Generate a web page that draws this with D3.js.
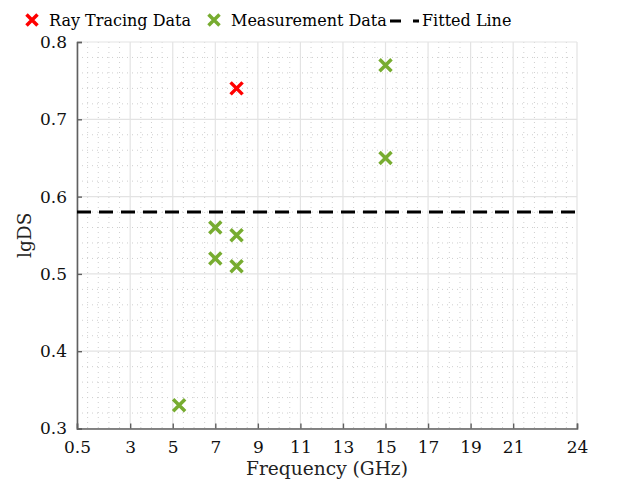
<!DOCTYPE html>
<html><head><meta charset="utf-8">
<script src="https://cdn.jsdelivr.net/npm/d3@7"></script>
<style>body{margin:0;background:#fff}</style>
</head><body><svg id="c" width="630" height="489"></svg>
<script>
const rayX = [8];
const rayY = [0.74];
const measX = [15, 15, 7, 8, 7, 8, 5.3];
const measY = [0.77, 0.65, 0.56, 0.55, 0.52, 0.51, 0.33];
const fittedValue = 0.58;
const xTicks = [0.5, 3, 5, 7, 9, 11, 13, 15, 17, 19, 21, 24];
const yTicks = [0.3, 0.4, 0.5, 0.6, 0.7, 0.8];
const legendLabels = ["Ray Tracing Data", "Measurement Data", "Fitted Line"];

const FONT = '"DejaVu Serif", serif';
const svg = d3.select("#c").attr("font-family", FONT);
const L = 77, R = 577, T = 42, B = 428.5;
const x = d3.scaleLinear().domain([0.5, 24]).range([L, R]);
const y = d3.scaleLinear().domain([0.3, 0.8]).range([B, T]);
const fs = 17, fsLeg = 16, fsLab = 18.6;

// minor grid
const xMinor = d3.range(1, 24, 0.5).filter(v => !xTicks.includes(v));
const yMinor = d3.range(0.32, 0.8, 0.02).map(v => +v.toFixed(2)).filter(v => !yTicks.some(t => Math.abs(t - v) < 1e-6));
const g = svg.append("g");
g.selectAll(".mx").data(xMinor).join("line")
  .attr("x1", d => x(d)).attr("x2", d => x(d)).attr("y1", T).attr("y2", B)
  .attr("stroke", "#cfcfcf").attr("stroke-width", 1).attr("stroke-dasharray", "1,4");
g.selectAll(".my").data(yMinor).join("line")
  .attr("y1", d => y(d)).attr("y2", d => y(d)).attr("x1", L).attr("x2", R)
  .attr("stroke", "#cfcfcf").attr("stroke-width", 1).attr("stroke-dasharray", "1,4");
// major grid
g.selectAll(".gx").data(xTicks).join("line")
  .attr("x1", d => x(d)).attr("x2", d => x(d)).attr("y1", T).attr("y2", B)
  .attr("stroke", "#e3e3e3").attr("stroke-width", 1.2);
g.selectAll(".gy").data(yTicks).join("line")
  .attr("y1", d => y(d)).attr("y2", d => y(d)).attr("x1", L).attr("x2", R)
  .attr("stroke", "#e3e3e3").attr("stroke-width", 1.2);

// axes
const xAxis = d3.axisBottom(x).tickValues(xTicks).tickSize(-5).tickPadding(12).tickFormat(d => d);
const yAxis = d3.axisLeft(y).tickValues(yTicks).tickSize(-5).tickPadding(10).tickFormat(d3.format(".1f"));
const gx = svg.append("g").attr("transform", `translate(0,${B})`).call(xAxis);
const gy = svg.append("g").attr("transform", `translate(${L},0)`).call(yAxis);
[gx, gy].forEach(a => {
  a.attr("font-family", FONT).attr("font-size", fs);
  a.select(".domain").attr("stroke", "#606060").attr("stroke-width", 1.6);
  a.selectAll(".tick line").attr("stroke", "#606060").attr("stroke-width", 1.4);
  a.selectAll(".tick text").attr("fill", "#111");
});
gx.selectAll(".tick text").attr("dy", "0.71em");

// fitted line
svg.append("line").attr("x1", x(0.5)).attr("x2", x(24))
  .attr("y1", y(fittedValue)).attr("y2", y(fittedValue))
  .attr("stroke", "#000").attr("stroke-width", 3).attr("stroke-dasharray", "14,8");

function cross(sel, cx, cy, color, s) {
  sel.append("path").attr("d", `M${cx - s},${cy - s}L${cx + s},${cy + s}M${cx - s},${cy + s}L${cx + s},${cy - s}`)
    .attr("stroke", color).attr("stroke-width", 3.5).attr("fill", "none");
}
const pts = svg.append("g");
measX.forEach((v, i) => cross(pts, x(v), y(measY[i]), "#77ac30", 6));
rayX.forEach((v, i) => cross(pts, x(v), y(rayY[i]), "#ff0000", 6));

// labels
svg.append("text").attr("x", (L + R) / 2).attr("y", 475).attr("text-anchor", "middle")
  .attr("font-size", fsLab).attr("fill", "#222").text("Frequency (GHz)");
svg.append("text").attr("transform", `translate(31,${(T + B) / 2}) rotate(-90)`).attr("text-anchor", "middle")
  .attr("font-size", fsLab).attr("fill", "#222").text("lgDS");

// legend
const lg = svg.append("g").attr("font-size", fsLeg);
cross(lg, 32, 20, "#ff0000", 5.5);
lg.append("text").attr("x", 49).attr("y", 26).text(legendLabels[0]);
cross(lg, 214, 20, "#77ac30", 5.5);
lg.append("text").attr("x", 231).attr("y", 26).text(legendLabels[1]);
lg.append("line").attr("x1", 390).attr("x2", 419).attr("y1", 21).attr("y2", 21)
  .attr("stroke", "#000").attr("stroke-width", 3).attr("stroke-dasharray", "11,12");
lg.append("text").attr("x", 422).attr("y", 26).text(legendLabels[2]);
</script></body></html>
